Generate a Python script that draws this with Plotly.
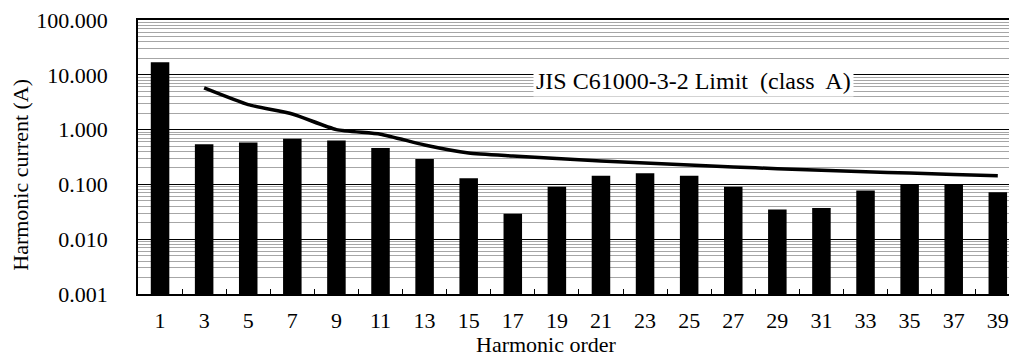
import plotly.graph_objects as go

harmonic_order = ["1", "3", "5", "7", "9", "11", "13", "15", "17", "19",
                  "21", "23", "25", "27", "29", "31", "33", "35", "37", "39"]
measured_current = [17.0, 0.54, 0.58, 0.68, 0.63, 0.46, 0.29, 0.13, 0.029, 0.091,
                    0.144, 0.16, 0.144, 0.091, 0.035, 0.037, 0.077, 0.098, 0.098, 0.072]
limit_current = [None, 5.75, 2.85, 1.925, 1.0, 0.825, 0.525, 0.375, 0.331, 0.296,
                 0.268, 0.245, 0.225, 0.208, 0.194, 0.181, 0.170, 0.161, 0.152, 0.144]
y_tick_vals = [0.001, 0.01, 0.1, 1, 10, 100]
y_tick_text = ["0.001", "0.010", "0.100", "1.000", "10.000", "100.000"]

FONT = "Liberation Serif, Times New Roman, serif"

fig = go.Figure()
fig.add_trace(go.Bar(x=harmonic_order, y=measured_current,
                     marker=dict(color="black", line=dict(width=0)),
                     showlegend=False))
fig.add_trace(go.Scatter(x=harmonic_order, y=limit_current, mode="lines",
                         line=dict(color="black", width=3.5, shape="spline", smoothing=0.5),
                         connectgaps=False, showlegend=False))

fig.update_layout(
    width=1009, height=350,
    margin=dict(l=130, r=0, t=7, b=64),
    paper_bgcolor="white", plot_bgcolor="white",
    bargap=0.58,
    font=dict(family=FONT, size=22, color="black"),
    xaxis=dict(type="category", range=[-0.5, 19.39],
               showline=True, linecolor="black", linewidth=2, mirror=True,
               ticks="inside", ticklen=5, tickcolor="black", tickwidth=1,
               tickson="boundaries", showgrid=False,
               ticklabelstandoff=6,
               tickfont=dict(family=FONT, size=22, color="black")),
    yaxis=dict(type="log", range=[-3, 2.0001],
               tickvals=y_tick_vals, ticktext=y_tick_text,
               showline=True, linecolor="black", linewidth=1.5, mirror=True,
               ticks="", ticklabelstandoff=24, ticklabeloverflow="allow",
               showgrid=True, gridcolor="black", gridwidth=1,
               minor=dict(dtick="D1", showgrid=True, gridcolor="#a6a6a6", gridwidth=1, ticks=""),
               tickfont=dict(family=FONT, size=22, color="black"),
               zeroline=False),
    annotations=[
        dict(text="JIS C61000-3-2 Limit\u00a0 (class\u00a0 A)", xref="paper", yref="paper",
             x=0.633, y=0.778, xanchor="center", yanchor="middle", showarrow=False,
             bgcolor="white", borderpad=2, font=dict(family=FONT, size=24, color="black")),
        dict(text="Harmonic current (A)", xref="paper", yref="paper",
             x=-0.134, y=0.437, xanchor="center", yanchor="middle", textangle=-90,
             showarrow=False, font=dict(family=FONT, size=22, color="black")),
        dict(text="Harmonic order", xref="paper", yref="paper",
             x=0.466, y=-0.185, xanchor="center", yanchor="middle",
             showarrow=False, font=dict(family=FONT, size=22, color="black")),
    ],
)

fig.write_html("out.html")
